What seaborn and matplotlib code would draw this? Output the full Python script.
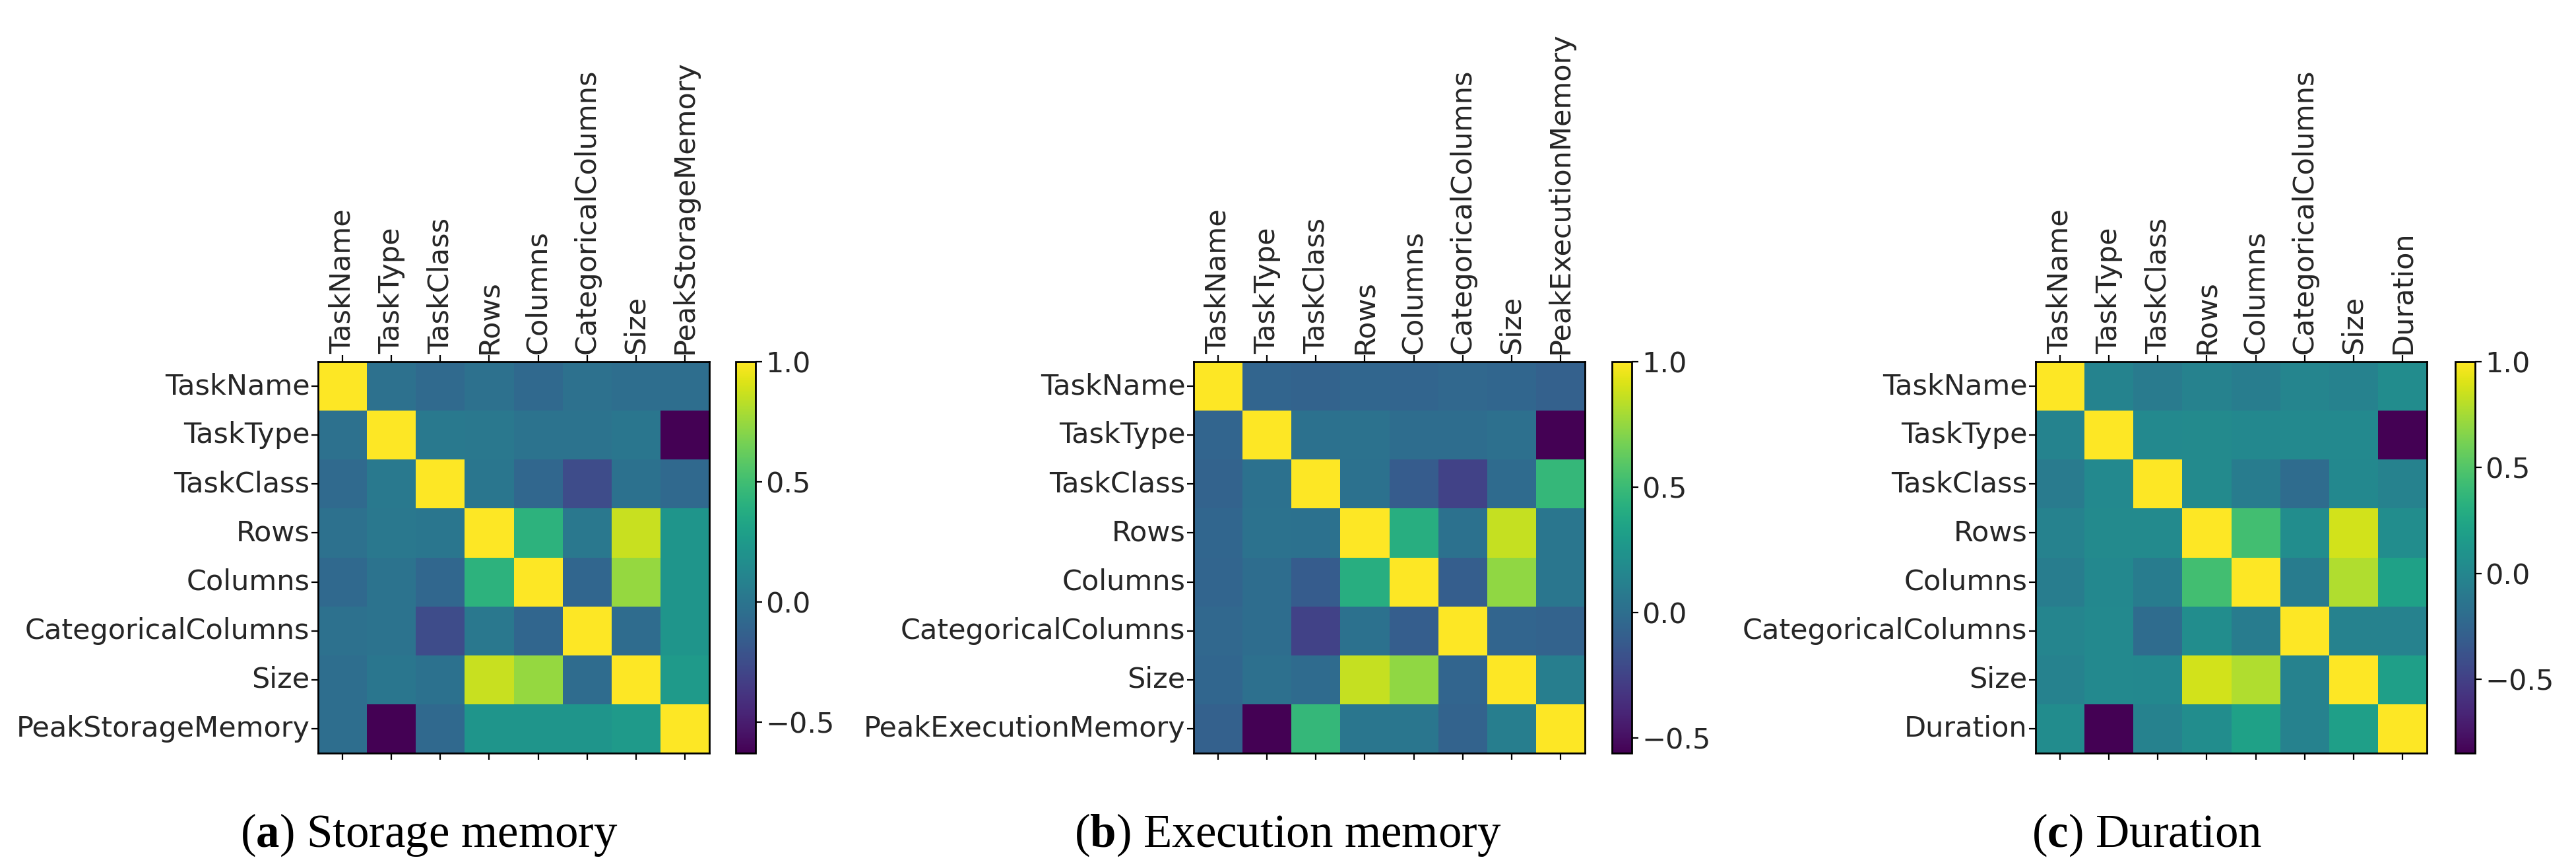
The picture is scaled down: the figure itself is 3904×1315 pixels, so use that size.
import numpy as np
import pandas as pd
import matplotlib
matplotlib.use("Agg")
import matplotlib.pyplot as plt
import seaborn as sns

# ---------------- data ----------------
base_vars = ["TaskName", "TaskType", "TaskClass", "Rows", "Columns",
             "CategoricalColumns", "Size"]
storage_labels = base_vars + ["PeakStorageMemory"]
execution_labels = base_vars + ["PeakExecutionMemory"]
duration_labels = base_vars + ["Duration"]

storage_corr = [
    [1.00, -0.03, -0.07, -0.03, -0.08, -0.03, -0.05, -0.05],
    [-0.03, 1.00, 0.03, 0.02, -0.01, -0.01, 0.01, -0.63],
    [-0.07, 0.03, 1.00, 0.01, -0.09, -0.26, -0.02, -0.08],
    [-0.03, 0.02, 0.01, 1.00, 0.42, 0.02, 0.86, 0.22],
    [-0.08, -0.01, -0.09, 0.42, 1.00, -0.10, 0.74, 0.22],
    [-0.03, -0.01, -0.26, 0.02, -0.10, 1.00, -0.06, 0.22],
    [-0.05, 0.01, -0.02, 0.86, 0.74, -0.06, 1.00, 0.25],
    [-0.05, -0.63, -0.08, 0.22, 0.22, 0.22, 0.25, 1.00],
]
execution_corr = [
    [1.00, -0.06, -0.07, -0.05, -0.06, -0.04, -0.05, -0.08],
    [-0.06, 1.00, 0.02, 0.03, -0.01, -0.01, 0.01, -0.56],
    [-0.07, 0.02, 1.00, 0.02, -0.11, -0.25, -0.02, 0.48],
    [-0.05, 0.03, 0.02, 1.00, 0.42, 0.02, 0.86, 0.05],
    [-0.06, -0.01, -0.11, 0.42, 1.00, -0.10, 0.74, 0.05],
    [-0.04, -0.01, -0.25, 0.02, -0.10, 1.00, -0.06, -0.07],
    [-0.05, 0.01, -0.02, 0.86, 0.74, -0.06, 1.00, 0.10],
    [-0.08, -0.56, 0.48, 0.05, 0.05, -0.07, 0.10, 1.00],
]
duration_corr = [
    [1.00, -0.02, -0.09, -0.03, -0.07, -0.01, -0.04, 0.04],
    [-0.02, 1.00, 0.02, 0.03, 0.01, 0.02, 0.02, -0.85],
    [-0.09, 0.02, 1.00, 0.03, -0.08, -0.20, 0.01, -0.04],
    [-0.03, 0.03, 0.03, 1.00, 0.44, 0.05, 0.87, 0.05],
    [-0.07, 0.01, -0.08, 0.44, 1.00, -0.08, 0.78, 0.21],
    [-0.01, 0.02, -0.20, 0.05, -0.08, 1.00, -0.03, -0.03],
    [-0.04, 0.02, 0.01, 0.87, 0.78, -0.03, 1.00, 0.19],
    [0.04, -0.85, -0.04, 0.05, 0.21, -0.03, 0.19, 1.00],
]
captions = [r"($\mathbf{a}$) Storage memory",
            r"($\mathbf{b}$) Execution memory",
            r"($\mathbf{c}$) Duration"]
cbar_ticks = [-0.5, 0.0, 0.5, 1.0]

# ---------------- style ----------------
sns.set_style("white")
plt.rcParams["font.family"] = ["DejaVu Sans"]
plt.rcParams["mathtext.fontset"] = "custom"
plt.rcParams["mathtext.rm"] = "Liberation Serif"
plt.rcParams["mathtext.bf"] = "Liberation Serif:bold"
plt.rcParams["axes.unicode_minus"] = True

W, H = 3904, 1315
DPI = 100
fig = plt.figure(figsize=(W / DPI, H / DPI), dpi=DPI)
fig.patch.set_facecolor("white")


def px_axes(x0, y_top, w, h):
    return fig.add_axes([x0 / W, (H - y_top - h) / H, w / W, h / H])


panels = [
    (storage_corr, storage_labels, 482, 1115, 650),
    (execution_corr, execution_labels, 1809, 2443, 1952),
    (duration_corr, duration_labels, 3085, 3721, 3254),
]

FS = 31
for (mat, labels, hx, cx, capx), cap in zip(panels, captions):
    df = pd.DataFrame(mat, index=labels, columns=labels)
    ax = px_axes(hx, 548, 593, 593)
    cax = px_axes(cx, 548, 30, 593)
    vmin = float(np.min(df.values))
    sns.heatmap(df, ax=ax, cbar_ax=cax, cmap="viridis", vmin=vmin, vmax=1.0,
                square=True, linewidths=0)
    ax.xaxis.tick_top()
    ax.set_xticks(np.arange(len(labels)) + 0.5)
    ax.set_xticklabels(labels, rotation=90, fontsize=FS)
    ax.set_yticks(np.arange(len(labels)) + 0.5)
    ax.set_yticklabels(labels, rotation=0, fontsize=FS)
    ax.tick_params(axis="x", top=True, bottom=True, labeltop=True,
                   labelbottom=False, length=7, width=1.6, pad=2,
                   direction="out", color="black")
    ax.tick_params(axis="y", left=True, length=7, width=1.6, pad=2,
                   direction="out", color="black")
    ax.set_xlabel("")
    ax.set_ylabel("")
    for sp in ax.spines.values():
        sp.set_visible(True)
        sp.set_color("black")
        sp.set_linewidth(2.0)

    cb = ax.collections[0].colorbar
    cb.set_ticks(cbar_ticks)
    cb.outline.set_visible(True)
    cb.outline.set_linewidth(2.0)
    cb.outline.set_edgecolor("black")
    cax.tick_params(labelsize=FS, length=7, width=1.6, pad=4,
                    direction="out", color="black", right=True)

    fig.text(capx / W, 1 - 1265 / H, cap, ha="center", va="center",
             fontsize=51, family="Liberation Serif", color="black")

fig.savefig("out.png", dpi=DPI, facecolor="white")
